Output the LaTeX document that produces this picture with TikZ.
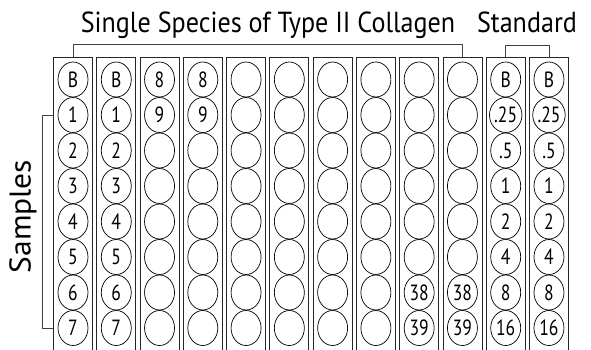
\documentclass[tikz,border=0pt]{standalone}
\usepackage{fontspec}
\setmainfont{PT Sans}
\newfontfamily\titlefont[FakeStretch=0.9]{PT Sans}
\newfontfamily\sidefont[FakeStretch=1.05]{PT Sans}
\newfontfamily\wellfont[FakeStretch=0.8]{PT Sans}
\usetikzlibrary{shapes.geometric}
\newcommand\wellcol[2]{%
  \node[strip] (s#1) at ({73+(#1-1)*43.27},206) {};
  \foreach \t [count=\r from 0] in {#2} {
    \node[well] (w#1-\r) at ({73+(#1-1)*43.27},{79.5+35.5*\r}) {\t};
  }
}
\begin{document}
\begin{tikzpicture}[x=1pt,y=-1pt,
  strip/.style={draw=black!85,line width=0.8pt,rectangle,minimum width=39pt,minimum height=298pt,inner sep=0pt},
  well/.style={draw=black,line width=0.7pt,ellipse,minimum width=30pt,minimum height=35pt,inner sep=0pt,font=\wellfont\fontsize{22}{22}\selectfont},
  title/.style={font=\titlefont\fontsize{29}{29}\selectfont,inner sep=0pt},
  sidetitle/.style={font=\sidefont\fontsize{30}{30}\selectfont,inner sep=0pt},
  bracket/.style={draw=black!75,line width=0.8pt}]
\useasboundingbox[fill=white] (0,0) rectangle (591,350);
\wellcol{1}{B,1,2,3,4,5,6,7}
\wellcol{2}{B,1,2,3,4,5,6,7}
\wellcol{3}{8,9,{},{},{},{},{},{}}
\wellcol{4}{8,9,{},{},{},{},{},{}}
\wellcol{5}{{},{},{},{},{},{},{},{}}
\wellcol{6}{{},{},{},{},{},{},{},{}}
\wellcol{7}{{},{},{},{},{},{},{},{}}
\wellcol{8}{{},{},{},{},{},{},{},{}}
\wellcol{9}{{},{},{},{},{},{},38,39}
\wellcol{10}{{},{},{},{},{},{},38,39}
\wellcol{11}{B,.25,.5,1,2,4,8,16}
\wellcol{12}{B,.25,.5,1,2,4,8,16}
\draw[bracket] (s1.north) -- ++(0,-12) -| (s10.north);
\draw[bracket] (s11.north) -- ++(0,-11) -| (s12.north);
\draw[bracket] (w1-1.center -| s1.west) -- ++(-11,0) |- (w1-7.center -| s1.west);
\node[title,anchor=base] (t1) at (268,33) {Single Species of Type II Collagen};
\node[title,anchor=base] (t2) at (527,33) {Standard};
\node[sidetitle,rotate=90] (t3) at (23,216.5) {Samples};
\end{tikzpicture}
\end{document}
